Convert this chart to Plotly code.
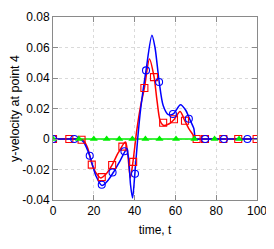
import plotly.graph_objects as go

# ---- data ----
blue_line_t = [0, 10, 13, 15, 18, 21, 24, 27, 30, 33, 36, 37, 38, 39, 40, 41.5, 43, 45.6, 48.5, 50, 52, 54, 56.5, 59, 62.5, 65, 67, 69, 70, 72, 100]
blue_line_v = [0, 0, 0, -0.002, -0.011, -0.024, -0.0305, -0.027, -0.021, -0.014, -0.007, -0.012, -0.03, -0.0387, -0.025, 0.0, 0.02, 0.045, 0.068, 0.06, 0.038, 0.022, 0.016, 0.0165, 0.0225, 0.019, 0.013, 0.007, 0.0, 0, 0]
blue_mark_t = [0, 10.4, 18, 23.9, 29.2, 35, 40.2, 45.6, 52, 58.8, 66.6, 74.6, 83.8, 95.3]
blue_mark_v = [0, 0, -0.011, -0.030, -0.022, -0.008, -0.0228, 0.045, 0.0374, 0.0164, 0.0133, 0, 0, 0]

red_line_t = [0, 13, 15, 17, 19, 21, 23.5, 26, 29, 32, 35.5, 36.5, 37.9, 39.2, 41, 43, 44.8, 47.3, 49.5, 51, 52.5, 54, 57, 59.5, 62.3, 64.6, 66.5, 68.5, 70, 72, 100]
red_line_v = [0, 0, -0.001, -0.006, -0.016, -0.022, -0.0255, -0.023, -0.017, -0.009, -0.002, -0.008, -0.0256, -0.015, 0.005, 0.022, 0.0334, 0.0525, 0.041, 0.025, 0.012, 0.009, 0.010, 0.013, 0.018, 0.012, 0.007, 0.003, 0, 0, 0]
red_mark_t = [0, 8, 14, 19, 23.9, 29, 34, 39.3, 44.8, 49.5, 54, 59.3, 64.7, 70.4, 74.5, 83.5, 90.8, 99.8]
red_mark_v = [0, 0, -0.0005, -0.0168, -0.025, -0.017, -0.005, -0.015, 0.0334, 0.0406, 0.0107, 0.013, 0.012, 0, 0, 0, 0, 0]

green_line_t = [0, 100]
green_line_v = [0, 0]
green_mark_t = [0, 12.7, 20, 26.3, 32.5, 38.9, 45.3, 52.2, 60.3, 69.3, 79.2, 91.2]
green_mark_v = [0, 0, 0, 0, 0, 0, 0, 0, 0, 0, 0, 0]

x_ticks = [0, 20, 40, 60, 80, 100]
y_ticks = [-0.04, -0.02, 0, 0.02, 0.04, 0.06, 0.08]
y_ticklabels = ["-0.04", "-0.02", "0", "0.02", "0.04", "0.06", "0.08"]

BLUE = "#0000ff"
RED = "#ff0000"
GREEN = "#00ee00"

fig = go.Figure()
fig.add_trace(go.Scatter(x=green_line_t, y=green_line_v, mode="lines",
                         line=dict(color=GREEN, width=1.5)))
fig.add_trace(go.Scatter(x=red_line_t, y=red_line_v, mode="lines",
                         line=dict(color=RED, width=1.5, shape="spline", smoothing=0.8)))
fig.add_trace(go.Scatter(x=blue_line_t, y=blue_line_v, mode="lines",
                         line=dict(color=BLUE, width=1.5, shape="spline", smoothing=0.8)))
fig.add_trace(go.Scatter(x=red_mark_t, y=red_mark_v, mode="markers",
                         marker=dict(symbol="square-open", size=7, color=RED, line=dict(width=1.1, color=RED))))
fig.add_trace(go.Scatter(x=blue_mark_t, y=blue_mark_v, mode="markers",
                         marker=dict(symbol="circle-open", size=7, color=BLUE, line=dict(width=1.1, color=BLUE))))
fig.add_trace(go.Scatter(x=green_mark_t, y=green_mark_v, mode="markers",
                         marker=dict(symbol="triangle-up", size=7, color=GREEN)))

axis_common = dict(
    showline=True, linecolor="#8a8a8a", linewidth=1, mirror="ticks",
    ticks="inside", ticklen=5, tickcolor="#8a8a8a",
    showgrid=True, gridcolor="#dadada", griddash="dot", gridwidth=1,
    zeroline=False, automargin=False, ticklabeloverflow="allow",
    tickfont=dict(family="Liberation Sans, Arial, sans-serif", size=12, color="#000"),
)

# page body has a default 8px margin, so the figure is shrunk and shifted accordingly
fig.update_layout(
    width=266, height=241,
    margin=dict(l=45, r=17, t=9, b=49),
    paper_bgcolor="white", plot_bgcolor="white",
    showlegend=False,
    font=dict(family="Liberation Sans, Arial, sans-serif", size=12, color="#000"),
    xaxis=dict(range=[0, 100], tickvals=x_ticks,
               title=dict(text="time, t", font=dict(size=12), standoff=8), **axis_common),
    yaxis=dict(range=[-0.04, 0.08], tickvals=y_ticks, ticktext=y_ticklabels,
               title=dict(text="y-velocity at point 4", font=dict(size=12.5), standoff=8), **axis_common),
)

fig.write_html("out.html")
